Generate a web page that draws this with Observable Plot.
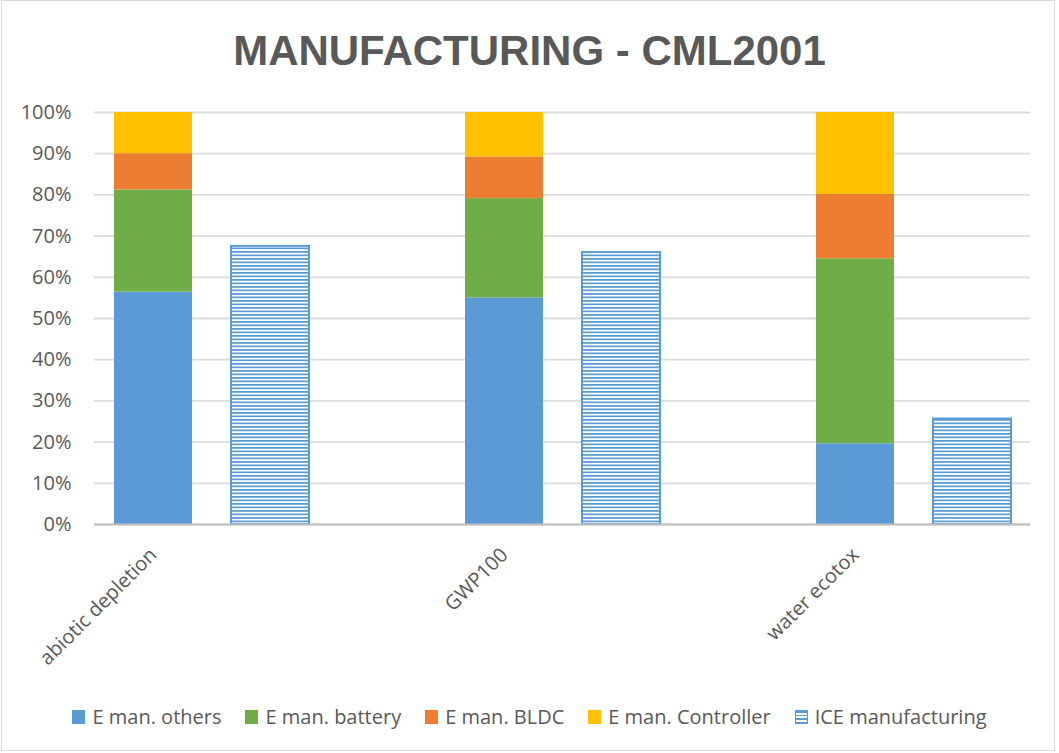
<!DOCTYPE html>
<html>
<head>
<meta charset="utf-8">
<script src="https://cdn.jsdelivr.net/npm/d3@7"></script>
<script src="https://cdn.jsdelivr.net/npm/@observablehq/plot@0.6"></script>
<style>
  body { margin: 0; background: #fff; font-family: "Open Sans", "Liberation Sans", Arial, sans-serif; color: #595959; }
  #chart { position: relative; width: 1059px; height: 753px; overflow: hidden; background: #fff; }
  #frame { position: absolute; left: 1px; top: 0; width: 1052px; height: 749px; border: 1.5px solid #d9d9d9; pointer-events: none; }
  #title { height: 90px; box-sizing: border-box; padding-top: 30px; line-height: 42px; font-size: 42px; font-weight: bold; text-align: center; color: #595959; font-family: "Liberation Sans", Arial, sans-serif; }
  #plot svg { display: block; }
  #legend { display: flex; justify-content: center; gap: 24px; font-size: 20px; line-height: 20px; padding-top: 13px; color: #595959; }
  .item { display: flex; align-items: center; gap: 7px; }
  .sw { width: 13px; height: 14px; box-sizing: border-box; }
</style>
</head>
<body>
<div id="chart">
  <div id="frame"></div>
  <div id="title">MANUFACTURING - CML2001</div>
  <div id="plot"></div>
  <div id="legend"></div>
</div>
<script>
// ---- data (percent) ----
const categories = ["abiotic depletion", "GWP100", "water ecotox"];
const seriesNames = ["E man. others", "E man. battery", "E man. BLDC", "E man. Controller"];
const eOthers = [56.4, 55.0, 19.6];
const eBattery = [24.8, 24.1, 44.9];
const eBLDC = [8.8, 10.1, 15.6];
const eController = [10.0, 10.8, 19.9];
const iceName = "ICE manufacturing";
const iceManufacturing = [67.5, 66.0, 25.6];
const yTicks = [0, 10, 20, 30, 40, 50, 60, 70, 80, 90, 100];

// ---- styles ----
const seriesColors = ["#5b9bd5", "#70ad47", "#ed7d31", "#ffc000"];
const iceColor = "#5b9bd5";

// ---- derived tables ----
const eSeries = [eOthers, eBattery, eBLDC, eController];
const slots = categories.flatMap((c, i) =>
  i < categories.length - 1 ? [c, c + " \u00b7ICE", c + " \u00b7gap"] : [c, c + " \u00b7ICE"]);
const eRows = categories.flatMap((c, i) =>
  seriesNames.map((s, j) => ({slot: c, series: s, value: eSeries[j][i]})));
const iceRows = categories.map((c, i) => ({slot: c + " \u00b7ICE", value: iceManufacturing[i]}));

const plot = Plot.plot({
  width: 1059,
  height: 604,
  marginTop: 22,
  marginBottom: 170,
  marginLeft: 94,
  marginRight: 29,
  style: {fontFamily: "'Open Sans', 'Liberation Sans', Arial, sans-serif", color: "#595959", background: "transparent", overflow: "visible"},
  x: {type: "band", domain: slots, paddingInner: 1 / 3, paddingOuter: 1 / 6, align: 0.5, label: null},
  y: {domain: [0, 100], label: null},
  color: {domain: seriesNames, range: seriesColors},
  marks: [
    Plot.gridY(yTicks, {stroke: "#dcdcdc", strokeOpacity: 1, strokeWidth: 1.8}),
    Plot.barY(eRows, Plot.stackY({x: "slot", y: "value", fill: "series", order: seriesNames})),
    Plot.barY(iceRows, {x: "slot", y: "value", fill: "url(#ice-hatch)", stroke: iceColor, strokeWidth: 2}),
    Plot.ruleY([0], {stroke: "#bfbfbf", strokeWidth: 1.8}),
    Plot.axisY(yTicks, {tickFormat: d => d + "%", tickSize: 0, tickPadding: 23, fontSize: 20}),
    Plot.axisX(categories, {tickRotate: -45, tickSize: 0, tickPadding: 27, fontSize: 20, dx: 0})
  ]
});

d3.select(plot).insert("defs", ":first-child").html(
  `<pattern id="ice-hatch" width="4" height="3.5" patternUnits="userSpaceOnUse">
     <rect width="4" height="3.5" fill="#ffffff"></rect>
     <rect width="4" height="1.75" fill="${iceColor}"></rect>
   </pattern>`);

document.getElementById("plot").appendChild(plot);

// ---- legend ----
const legend = d3.select("#legend");
const legendItems = seriesNames.map((s, i) => ({name: s, color: seriesColors[i], hatch: false}))
  .concat([{name: iceName, color: iceColor, hatch: true}]);
legendItems.forEach(d => {
  const it = legend.append("div").attr("class", "item");
  const sw = it.append("div").attr("class", "sw");
  if (d.hatch) {
    sw.style("border", `1.5px solid ${d.color}`)
      .style("background", `repeating-linear-gradient(to bottom, ${d.color} 0 1.75px, #fff 1.75px 3.5px)`);
  } else {
    sw.style("background", d.color);
  }
  it.append("span").text(d.name);
});
</script>
</body>
</html>
